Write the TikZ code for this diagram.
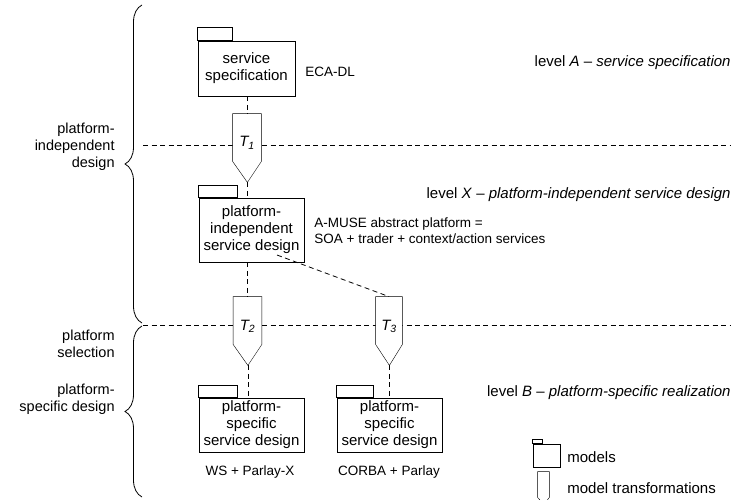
\documentclass[tikz,border=0pt]{standalone}
\usepackage{fontspec}
\setmainfont{Liberation Sans}
\usetikzlibrary{decorations.pathreplacing,backgrounds}
\begin{document}
\begin{tikzpicture}[x=1pt, y=-1pt, line width=0.8pt,
          pkg/.style={draw, fill=white, minimum width=105, minimum height=54, inner sep=0pt, align=center, font=\fontsize{15}{17}\selectfont},
          trans/.style={minimum width=28, minimum height=47, inner sep=0pt, text height=22pt, text depth=3pt, font=\fontsize{15}{17}\selectfont\itshape},
          note/.style={inner sep=0pt, font=\fontsize{13.5}{16}\selectfont},
          level/.style={anchor=east, inner sep=0pt, font=\fontsize{15}{17}\selectfont},
          side/.style={anchor=east, align=right, inner sep=0pt, font=\fontsize{14.5}{17}\selectfont},
          link/.style={dash pattern=on 5pt off 3.5pt},
          curly/.style={decorate, decoration={brace, amplitude=17pt}}]
        \useasboundingbox (0,0) rectangle (734,500);
        % braces
        \draw[curly] (142,323) -- (142,5);
        \draw[curly] (142,497) -- (142,326);
        \node[side] (pi) at (115,146.5) {platform-\\independent\\design};
        \node[side] (ps) at (115,343.5) {platform\\selection};
        \node[side] (sd) at (115,399.5) {platform-\\specific design};
        % models
        \node[pkg, minimum width=97, minimum height=55] (spec) at (246.5,68.5) {service\\specification};
        \node[pkg, minimum height=64] (pid) at (251.5,230) {platform-\\independent\\service design};
        \node[pkg] (psa) at (251.5,425) {platform-\\specific\\service design};
        \node[pkg] (psb) at (389.5,425) {platform-\\specific\\service design};
        \node[pkg, minimum width=27, minimum height=23] (mlegend) at (546.5,455.5) {};
        \foreach \p/\w/\h in {spec/35/13, pid/39/12, psa/39/12, psb/37/12, mlegend/10/4}
          \draw (\p.north west) rectangle ++(\w,-\h);
        % transformations
        \node[trans] (T1) at (247,137.5) {T\textsubscript{1}};
        \node[trans] (T2) at (247.5,320.5) {T\textsubscript{2}};
        \node[trans, minimum width=26] (T3) at (389,320.5) {T\textsubscript{3}};
        \node[trans, minimum width=11, minimum height=15] (tlegend) at (543.5,484.5) {};
        \begin{scope}[on background layer]
          \coordinate (s1) at (143,145);
          \coordinate (s2) at (143,325);
          \draw[link] (s1) -- (730,145);
          \draw[link] (s2) -- (730,325);
          \foreach \t/\hw/\d in {T1/14/21, T2/14/21, T3/13/21, tlegend/5.5/7}
            \draw[fill=white] (\t.north west) -- (\t.north east) -- (\t.south east)
              -- ++(-\hw,\d) coordinate (\t tip) -- (\t.south west) -- cycle;
        \end{scope}
        % links
        \coordinate (pidout) at (277,255);
        \draw[link] (spec.south -| T1.north) -- (T1.north);
        \draw[link] (T1tip) -- (T1tip |- pid.north);
        \draw[link] (T2.north |- pid.south) -- (T2.north);
        \draw[link] (pidout) -- (T3.north);
        \draw[link] (T2tip) -- (T2tip |- psa.north);
        \draw[link] (T3tip) -- (T3tip |- psb.north);
        % texts
        \node[note, anchor=west] (eca) at (305,72) {ECA-DL};
        \node[note, anchor=west, align=left] (amuse) at (314,231) {A-MUSE abstract platform =\\SOA + trader + context/action services};
        \node[note] (ws) at (250,472) {WS + Parlay-X};
        \node[note] (corba) at (389,472) {CORBA + Parlay};
        \node[level] (lA) at (731,63) {level \textit{A} -- \textit{service specification}};
        \node[level] (lX) at (731,195) {level \textit{X} -- \textit{platform-independent service design}};
        \node[level] (lB) at (731,393) {level \textit{B} -- \textit{platform-specific realization}};
        \node[note, anchor=west, font=\fontsize{15}{17}\selectfont] (mtext) at (567,457) {models};
        \node[note, anchor=west, font=\fontsize{15}{17}\selectfont] (ttext) at (567,488) {model transformations};
      \end{tikzpicture}
\end{document}
